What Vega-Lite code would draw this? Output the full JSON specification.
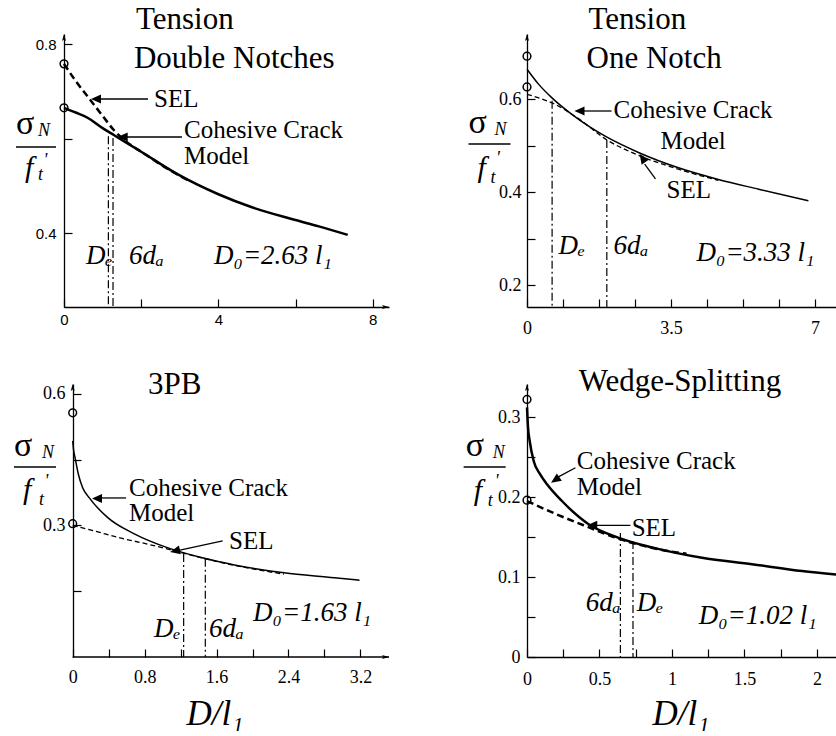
{
  "$schema": "https://vega.github.io/schema/vega-lite/v6.json",
  "background": "white",
  "padding": {"left": 13, "top": 3, "right": 0, "bottom": 0},
  "autosize": {"type": "pad"},
  "columns": 2,
  "spacing": {"row": 77, "column": 138},
  "bounds": "flush",
  "config": {
    "view": {"stroke": null},
    "font": "Liberation Serif",
    "axis": {
      "grid": false, "domainColor": "black", "domainWidth": 1.3,
      "tickColor": "black", "tickWidth": 1.2, "tickSize": -8,
      "labelColor": "black", "labelFont": "Liberation Serif", "labelFontSize": 18,
      "labelFlush": false, "labelOverlap": false, "titleColor": "black"
    }
  },
  "datasets": {
    "p1_curves": [
      {"model": "Cohesive Crack Model", "x": 0, "y": 0.665},
      {"model": "Cohesive Crack Model", "x": 0.3, "y": 0.655},
      {"model": "Cohesive Crack Model", "x": 0.61, "y": 0.644},
      {"model": "Cohesive Crack Model", "x": 1.0, "y": 0.622},
      {"model": "Cohesive Crack Model", "x": 1.3, "y": 0.607},
      {"model": "Cohesive Crack Model", "x": 2.0, "y": 0.572},
      {"model": "Cohesive Crack Model", "x": 2.95, "y": 0.524},
      {"model": "Cohesive Crack Model", "x": 4.0, "y": 0.482},
      {"model": "Cohesive Crack Model", "x": 4.85, "y": 0.455},
      {"model": "Cohesive Crack Model", "x": 5.97, "y": 0.428},
      {"model": "Cohesive Crack Model", "x": 6.6, "y": 0.414},
      {"model": "Cohesive Crack Model", "x": 7.35, "y": 0.396},
      {"model": "SEL", "x": 0, "y": 0.758},
      {"model": "SEL", "x": 0.3, "y": 0.722},
      {"model": "SEL", "x": 0.66, "y": 0.684},
      {"model": "SEL", "x": 1.0, "y": 0.648},
      {"model": "SEL", "x": 1.3, "y": 0.617},
      {"model": "SEL", "x": 1.7, "y": 0.588},
      {"model": "SEL", "x": 2.0, "y": 0.572},
      {"model": "SEL", "x": 2.6, "y": 0.54},
      {"model": "SEL", "x": 3.2, "y": 0.512}
    ],
    "p1_limits": [{"line": "De", "x": 1.15, "y": 0.605}, {"line": "6da", "x": 1.27, "y": 0.601}],
    "p1_circles": [{"x": 0, "y": 0.758}, {"x": 0, "y": 0.665}],
    "p1_rules": [
      {"x": 2.176, "y": 0.6836, "x2": 0.9, "y2": 0.6836},
      {"x": 3.057, "y": 0.6032, "x2": 1.6, "y2": 0.6032},
      {"x": -1.244, "y": 0.582, "x2": -0.207, "y2": 0.582}
    ],
    "p1_markers": [
      {"x": 0.829, "y": 0.6836, "kind": "left"},
      {"x": 1.52, "y": 0.6032, "kind": "left"},
      {"x": 0, "y": 0.8212, "kind": "axis-up"},
      {"x": 8.42, "y": 0.2434, "kind": "axis-right"}
    ],
    "p1_text": [
      {"role": "title", "x": 1.865, "y": 0.8318, "text": "Tension"},
      {"role": "title", "x": 1.813, "y": 0.7492, "text": "Double Notches"},
      {"role": "note", "x": 2.332, "y": 0.6667, "text": "SEL"},
      {"role": "note", "x": 3.109, "y": 0.601, "text": "Cohesive Crack"},
      {"role": "note", "x": 3.109, "y": 0.546, "text": "Model"},
      {"role": "math", "x": 0.57, "y": 0.3344, "text": "Dₑ"},
      {"role": "math", "x": 1.684, "y": 0.3344, "text": "6dₐ"},
      {"role": "math", "x": 3.886, "y": 0.3344, "text": "D₀=2.63 l₁"},
      {"role": "sigma", "x": -1.244, "y": 0.6095, "text": "σ"},
      {"role": "sub", "x": -0.674, "y": 0.6053, "text": "N"},
      {"role": "sub", "x": -0.674, "y": 0.5122, "text": "t"},
      {"role": "sub", "x": -0.531, "y": 0.5418, "text": "'"},
      {"role": "f", "x": -1.01, "y": 0.5185, "text": "f"}
    ],
    "p2_curves": [
      {"model": "Cohesive Crack Model", "x": 0, "y": 0.664},
      {"model": "Cohesive Crack Model", "x": 0.28, "y": 0.632},
      {"model": "Cohesive Crack Model", "x": 0.6, "y": 0.603},
      {"model": "Cohesive Crack Model", "x": 1.09, "y": 0.567},
      {"model": "Cohesive Crack Model", "x": 1.9, "y": 0.52},
      {"model": "Cohesive Crack Model", "x": 2.71, "y": 0.485},
      {"model": "Cohesive Crack Model", "x": 3.68, "y": 0.452},
      {"model": "Cohesive Crack Model", "x": 4.65, "y": 0.427},
      {"model": "Cohesive Crack Model", "x": 5.63, "y": 0.406},
      {"model": "Cohesive Crack Model", "x": 6.84, "y": 0.381},
      {"model": "SEL", "x": 0, "y": 0.61},
      {"model": "SEL", "x": 0.3, "y": 0.602},
      {"model": "SEL", "x": 0.6, "y": 0.592},
      {"model": "SEL", "x": 1.25, "y": 0.558},
      {"model": "SEL", "x": 1.94, "y": 0.512},
      {"model": "SEL", "x": 2.71, "y": 0.479},
      {"model": "SEL", "x": 3.68, "y": 0.449},
      {"model": "SEL", "x": 4.65, "y": 0.425}
    ],
    "p2_limits": [{"line": "De", "x": 0.61, "y": 0.596}, {"line": "6da", "x": 1.94, "y": 0.512}],
    "p2_circles": [{"x": 0, "y": 0.692}, {"x": 0, "y": 0.626}],
    "p2_rules": [
      {"x": 2.054, "y": 0.5742, "x2": 1.3, "y2": 0.5742},
      {"x": 3.123, "y": 0.428, "x2": 2.86, "y2": 0.46},
      {"x": -1.422, "y": 0.5032, "x2": -0.401, "y2": 0.5032}
    ],
    "p2_markers": [
      {"x": 1.276, "y": 0.5742, "kind": "left"},
      {"x": 2.807, "y": 0.473, "kind": "upleft"},
      {"x": 0, "y": 0.7398, "kind": "axis-up"}
    ],
    "p2_text": [
      {"role": "title", "x": 1.495, "y": 0.7505, "text": "Tension"},
      {"role": "title", "x": 1.446, "y": 0.6667, "text": "One Notch"},
      {"role": "note", "x": 2.103, "y": 0.5591, "text": "Cohesive Crack"},
      {"role": "note", "x": 3.245, "y": 0.4925, "text": "Model"},
      {"role": "note", "x": 3.391, "y": 0.3871, "text": "SEL"},
      {"role": "math", "x": 0.766, "y": 0.2667, "text": "Dₑ"},
      {"role": "math", "x": 2.103, "y": 0.2667, "text": "6dₐ"},
      {"role": "math", "x": 4.12, "y": 0.2516, "text": "D₀=3.33 l₁"},
      {"role": "sigma", "x": -1.422, "y": 0.5269, "text": "σ"},
      {"role": "sub", "x": -0.79, "y": 0.5226, "text": "N"},
      {"role": "sub", "x": -0.887, "y": 0.4194, "text": "t"},
      {"role": "sub", "x": -0.7535, "y": 0.4602, "text": "'"},
      {"role": "f", "x": -1.203, "y": 0.4323, "text": "f"}
    ],
    "p3_curves": [
      {"model": "Cohesive Crack Model", "x": 0, "y": 0.493},
      {"model": "Cohesive Crack Model", "x": 0.01, "y": 0.472},
      {"model": "Cohesive Crack Model", "x": 0.026, "y": 0.455},
      {"model": "Cohesive Crack Model", "x": 0.063, "y": 0.417},
      {"model": "Cohesive Crack Model", "x": 0.111, "y": 0.386},
      {"model": "Cohesive Crack Model", "x": 0.185, "y": 0.363},
      {"model": "Cohesive Crack Model", "x": 0.39, "y": 0.318},
      {"model": "Cohesive Crack Model", "x": 0.685, "y": 0.281},
      {"model": "Cohesive Crack Model", "x": 1.06, "y": 0.249},
      {"model": "Cohesive Crack Model", "x": 1.43, "y": 0.227},
      {"model": "Cohesive Crack Model", "x": 1.8, "y": 0.21},
      {"model": "Cohesive Crack Model", "x": 2.35, "y": 0.192},
      {"model": "Cohesive Crack Model", "x": 2.91, "y": 0.181},
      {"model": "Cohesive Crack Model", "x": 3.19, "y": 0.175},
      {"model": "SEL", "x": 0, "y": 0.3},
      {"model": "SEL", "x": 0.25, "y": 0.287},
      {"model": "SEL", "x": 0.5, "y": 0.273},
      {"model": "SEL", "x": 0.8, "y": 0.259},
      {"model": "SEL", "x": 1.1, "y": 0.244},
      {"model": "SEL", "x": 1.4, "y": 0.228},
      {"model": "SEL", "x": 1.8, "y": 0.209},
      {"model": "SEL", "x": 2.35, "y": 0.189}
    ],
    "p3_limits": [{"line": "De", "x": 1.234, "y": 0.235}, {"line": "6da", "x": 1.475, "y": 0.224}],
    "p3_circles": [{"x": 0, "y": 0.557}, {"x": 0, "y": 0.304}],
    "p3_rules": [
      {"x": 0.594, "y": 0.3628, "x2": 0.31, "y2": 0.3628},
      {"x": 1.668, "y": 0.2647, "x2": 1.18, "y2": 0.243},
      {"x": -0.653, "y": 0.4335, "x2": -0.186, "y2": 0.4335},
      {"x": 0, "y": 0, "x2": 3.518, "y2": 0}
    ],
    "p3_markers": [
      {"x": 0.27, "y": 0.3616, "kind": "left"},
      {"x": 1.138, "y": 0.2418, "kind": "leftdown"},
      {"x": 0, "y": 0.6228, "kind": "axis-up"},
      {"x": 3.518, "y": 0, "kind": "axis-right"}
    ],
    "p3_text": [
      {"role": "title", "x": 0.838, "y": 0.6, "text": "3PB"},
      {"role": "note", "x": 0.626, "y": 0.3673, "text": "Cohesive Crack"},
      {"role": "note", "x": 0.626, "y": 0.3103, "text": "Model"},
      {"role": "note", "x": 1.739, "y": 0.2464, "text": "SEL"},
      {"role": "math", "x": 0.904, "y": 0.0456, "text": "Dₑ"},
      {"role": "math", "x": 1.516, "y": 0.0456, "text": "6dₐ"},
      {"role": "math", "x": 2.006, "y": 0.0821, "text": "D₀=1.63 l₁"},
      {"role": "sigma", "x": -0.653, "y": 0.4586, "text": "σ"},
      {"role": "sub", "x": -0.341, "y": 0.454, "text": "N"},
      {"role": "sub", "x": -0.375, "y": 0.3468, "text": "t"},
      {"role": "sub", "x": -0.3137, "y": 0.3879, "text": "'"},
      {"role": "f", "x": -0.553, "y": 0.3605, "text": "f"}
    ],
    "p4_curves": [
      {"model": "Cohesive Crack Model", "x": 0, "y": 0.312},
      {"model": "Cohesive Crack Model", "x": 0.007, "y": 0.287},
      {"model": "Cohesive Crack Model", "x": 0.0186, "y": 0.27},
      {"model": "Cohesive Crack Model", "x": 0.046, "y": 0.245},
      {"model": "Cohesive Crack Model", "x": 0.092, "y": 0.228},
      {"model": "Cohesive Crack Model", "x": 0.138, "y": 0.216},
      {"model": "Cohesive Crack Model", "x": 0.241, "y": 0.195},
      {"model": "Cohesive Crack Model", "x": 0.425, "y": 0.166},
      {"model": "Cohesive Crack Model", "x": 0.632, "y": 0.149},
      {"model": "Cohesive Crack Model", "x": 0.862, "y": 0.137},
      {"model": "Cohesive Crack Model", "x": 1.207, "y": 0.124},
      {"model": "Cohesive Crack Model", "x": 1.552, "y": 0.116},
      {"model": "Cohesive Crack Model", "x": 1.897, "y": 0.1075},
      {"model": "Cohesive Crack Model", "x": 2.136, "y": 0.103},
      {"model": "SEL", "x": 0, "y": 0.195},
      {"model": "SEL", "x": 0.17, "y": 0.181},
      {"model": "SEL", "x": 0.4, "y": 0.164},
      {"model": "SEL", "x": 0.63, "y": 0.148},
      {"model": "SEL", "x": 0.9, "y": 0.135},
      {"model": "SEL", "x": 1.1, "y": 0.129}
    ],
    "p4_limits": [{"line": "6da", "x": 0.644, "y": 0.155}, {"line": "De", "x": 0.731, "y": 0.145}],
    "p4_circles": [{"x": 0, "y": 0.322}, {"x": 0, "y": 0.196}],
    "p4_rules": [
      {"x": 0.334, "y": 0.2366, "x2": 0.21, "y2": 0.2245},
      {"x": 0.713, "y": 0.1646, "x2": 0.47, "y2": 0.1646},
      {"x": -0.437, "y": 0.2375, "x2": -0.147, "y2": 0.2375}
    ],
    "p4_markers": [
      {"x": 0.1945, "y": 0.2213, "kind": "downleft"},
      {"x": 0.45, "y": 0.1646, "kind": "left"},
      {"x": 0, "y": 0.34125, "kind": "axis-up"}
    ],
    "p4_text": [
      {"role": "title", "x": 0.3566, "y": 0.3325, "text": "Wedge-Splitting"},
      {"role": "note", "x": 0.3428, "y": 0.235, "text": "Cohesive Crack"},
      {"role": "note", "x": 0.3428, "y": 0.2025, "text": "Model"},
      {"role": "note", "x": 0.722, "y": 0.1513, "text": "SEL"},
      {"role": "math", "x": 0.405, "y": 0.0575, "text": "6dₐ"},
      {"role": "math", "x": 0.757, "y": 0.0575, "text": "Dₑ"},
      {"role": "math", "x": 1.184, "y": 0.04125, "text": "D₀=1.02 l₁"},
      {"role": "sigma", "x": -0.423, "y": 0.2513, "text": "σ"},
      {"role": "sub", "x": -0.237, "y": 0.2488, "text": "N"},
      {"role": "sub", "x": -0.271, "y": 0.18875, "text": "t"},
      {"role": "sub", "x": -0.223, "y": 0.2125, "text": "'"},
      {"role": "f", "x": -0.368, "y": 0.19625, "text": "f"}
    ]
  },
  "concat": [
    {
      "width": 325, "height": 273,
      "encoding": {
        "x": {"field": "x", "type": "quantitative", "scale": {"domain": [0, 8.42], "nice": false, "zero": false},
          "axis": {"title": null, "format": ".3~f", "values": [0, 2, 4, 6, 8], "labelExpr": "indexof([0,4,8], datum.value) >= 0 ? datum.label : ''", "labelFont": "Liberation Sans", "labelFontSize": 15, "labelPadding": 13}},
        "y": {"field": "y", "type": "quantitative", "scale": {"domain": [0.2434, 0.8212], "nice": false, "zero": false},
          "axis": {"title": null, "format": ".3~f", "values": [0.4, 0.6, 0.8], "labelExpr": "indexof([0.4,0.8], datum.value) >= 0 ? datum.label : ''", "labelFont": "Liberation Sans", "labelFontSize": 15, "labelPadding": 16}}
      },
      "layer": [
        {"data": {"name": "p1_curves"}, "transform": [{"filter": "datum.model == 'Cohesive Crack Model'"}], "mark": {"type": "line", "color": "black", "strokeWidth": 2.5, "interpolate": "monotone"}},
        {"data": {"name": "p1_curves"}, "transform": [{"filter": "datum.model == 'SEL'"}], "mark": {"type": "line", "color": "black", "strokeWidth": 2.5, "strokeDash": [7, 4], "interpolate": "monotone"}},
        {"data": {"name": "p1_limits"}, "mark": {"type": "rule", "color": "black", "strokeWidth": 1.2, "strokeDash": [8, 3, 2, 3]}, "encoding": {"y2": {"datum": 0.2434}}},
        {"data": {"name": "p1_circles"}, "mark": {"type": "point", "shape": "circle", "filled": false, "color": "black", "strokeWidth": 1.5, "size": 60, "opacity": 1}},
        {"data": {"name": "p1_rules"}, "mark": {"type": "rule", "color": "black", "strokeWidth": 1.3}, "encoding": {"x2": {"field": "x2"}, "y2": {"field": "y2"}}},
        {"data": {"name": "p1_markers"}, "mark": {"type": "point", "filled": true, "color": "black", "size": 100, "opacity": 1, "strokeWidth": 0},
          "encoding": {"shape": {"field": "kind", "type": "nominal", "legend": null, "scale": {"domain": ["left", "upleft", "leftdown", "downleft", "axis-up", "axis-right"], "range": ["M-1,0L1,-0.9L1,0.9Z", "M-0.569,-0.822L1.309,0.31L-0.171,1.334Z", "M-0.976,0.216L1.17,0.662L0.782,-1.094Z", "M-0.825,0.565L1.334,0.178L0.316,-1.308Z", "M0,0L-0.4,1.4L0,1.1L0.4,1.4Z", "M0,0L-1.4,-0.4L-1.1,0L-1.4,0.4Z"]}}}},
        {"data": {"name": "p1_text"}, "transform": [{"filter": "datum.role == 'title'"}], "mark": {"type": "text", "font": "Liberation Serif", "fontSize": 31, "align": "left", "baseline": "alphabetic", "color": "black"}, "encoding": {"text": {"field": "text"}}},
        {"data": {"name": "p1_text"}, "transform": [{"filter": "datum.role == 'note'"}], "mark": {"type": "text", "font": "Liberation Serif", "fontSize": 25, "align": "left", "baseline": "alphabetic", "color": "black"}, "encoding": {"text": {"field": "text"}}},
        {"data": {"name": "p1_text"}, "transform": [{"filter": "datum.role == 'math'"}], "mark": {"type": "text", "font": "Liberation Serif", "fontStyle": "italic", "fontSize": 27, "align": "left", "baseline": "alphabetic", "color": "black"}, "encoding": {"text": {"field": "text"}}},
        {"data": {"name": "p1_text"}, "transform": [{"filter": "datum.role == 'sigma'"}], "mark": {"type": "text", "font": "Liberation Serif", "fontSize": 34, "align": "left", "baseline": "alphabetic", "color": "black"}, "encoding": {"text": {"field": "text"}}},
        {"data": {"name": "p1_text"}, "transform": [{"filter": "datum.role == 'sub'"}], "mark": {"type": "text", "font": "Liberation Serif", "fontStyle": "italic", "fontSize": 18, "align": "left", "baseline": "alphabetic", "color": "black"}, "encoding": {"text": {"field": "text"}}},
        {"data": {"name": "p1_text"}, "transform": [{"filter": "datum.role == 'f'"}], "mark": {"type": "text", "font": "Liberation Serif", "fontStyle": "italic", "fontSize": 30, "align": "left", "baseline": "alphabetic", "color": "black"}, "encoding": {"text": {"field": "text"}}}
      ]
    },
    {
      "width": 310, "height": 273,
      "encoding": {
        "x": {"field": "x", "type": "quantitative", "scale": {"domain": [0, 7.535], "nice": false, "zero": false},
          "axis": {"title": null, "format": ".3~f", "values": [0, 0.875, 1.75, 2.625, 3.5, 4.375, 5.25, 6.125, 7], "labelExpr": "indexof([0,3.5,7], datum.value) >= 0 ? datum.label : ''", "labelPadding": 20}},
        "y": {"field": "y", "type": "quantitative", "scale": {"domain": [0.1527, 0.7398], "nice": false, "zero": false},
          "axis": {"title": null, "format": ".3~f", "values": [0.2, 0.3, 0.4, 0.5, 0.6], "labelExpr": "indexof([0.2,0.4,0.6], datum.value) >= 0 ? datum.label : ''", "labelPadding": 14}}
      },
      "layer": [
        {"data": {"name": "p2_curves"}, "transform": [{"filter": "datum.model == 'Cohesive Crack Model'"}], "mark": {"type": "line", "color": "black", "strokeWidth": 1.5, "interpolate": "monotone"}},
        {"data": {"name": "p2_curves"}, "transform": [{"filter": "datum.model == 'SEL'"}], "mark": {"type": "line", "color": "black", "strokeWidth": 1.3, "strokeDash": [5, 3], "interpolate": "monotone"}},
        {"data": {"name": "p2_limits"}, "mark": {"type": "rule", "color": "black", "strokeWidth": 1.2, "strokeDash": [8, 3, 2, 3]}, "encoding": {"y2": {"datum": 0.1527}}},
        {"data": {"name": "p2_circles"}, "mark": {"type": "point", "shape": "circle", "filled": false, "color": "black", "strokeWidth": 1.5, "size": 60, "opacity": 1}},
        {"data": {"name": "p2_rules"}, "mark": {"type": "rule", "color": "black", "strokeWidth": 1.3}, "encoding": {"x2": {"field": "x2"}, "y2": {"field": "y2"}}},
        {"data": {"name": "p2_markers"}, "mark": {"type": "point", "filled": true, "color": "black", "size": 100, "opacity": 1, "strokeWidth": 0},
          "encoding": {"shape": {"field": "kind", "type": "nominal", "legend": null, "scale": {"domain": ["left", "upleft", "leftdown", "downleft", "axis-up", "axis-right"], "range": ["M-1,0L1,-0.9L1,0.9Z", "M-0.569,-0.822L1.309,0.31L-0.171,1.334Z", "M-0.976,0.216L1.17,0.662L0.782,-1.094Z", "M-0.825,0.565L1.334,0.178L0.316,-1.308Z", "M0,0L-0.4,1.4L0,1.1L0.4,1.4Z", "M0,0L-1.4,-0.4L-1.1,0L-1.4,0.4Z"]}}}},
        {"data": {"name": "p2_text"}, "transform": [{"filter": "datum.role == 'title'"}], "mark": {"type": "text", "font": "Liberation Serif", "fontSize": 31, "align": "left", "baseline": "alphabetic", "color": "black"}, "encoding": {"text": {"field": "text"}}},
        {"data": {"name": "p2_text"}, "transform": [{"filter": "datum.role == 'note'"}], "mark": {"type": "text", "font": "Liberation Serif", "fontSize": 25, "align": "left", "baseline": "alphabetic", "color": "black"}, "encoding": {"text": {"field": "text"}}},
        {"data": {"name": "p2_text"}, "transform": [{"filter": "datum.role == 'math'"}], "mark": {"type": "text", "font": "Liberation Serif", "fontStyle": "italic", "fontSize": 27, "align": "left", "baseline": "alphabetic", "color": "black"}, "encoding": {"text": {"field": "text"}}},
        {"data": {"name": "p2_text"}, "transform": [{"filter": "datum.role == 'sigma'"}], "mark": {"type": "text", "font": "Liberation Serif", "fontSize": 34, "align": "left", "baseline": "alphabetic", "color": "black"}, "encoding": {"text": {"field": "text"}}},
        {"data": {"name": "p2_text"}, "transform": [{"filter": "datum.role == 'sub'"}], "mark": {"type": "text", "font": "Liberation Serif", "fontStyle": "italic", "fontSize": 18, "align": "left", "baseline": "alphabetic", "color": "black"}, "encoding": {"text": {"field": "text"}}},
        {"data": {"name": "p2_text"}, "transform": [{"filter": "datum.role == 'f'"}], "mark": {"type": "text", "font": "Liberation Serif", "fontStyle": "italic", "fontSize": 30, "align": "left", "baseline": "alphabetic", "color": "black"}, "encoding": {"text": {"field": "text"}}}
      ]
    },
    {
      "width": 325, "height": 273,
      "encoding": {
        "x": {"field": "x", "type": "quantitative", "scale": {"domain": [-0.0968, 3.518], "nice": false, "zero": false},
          "axis": {"title": "D/l₁", "format": ".3~f", "domain": false, "values": [0, 0.4, 0.8, 1.2, 1.6, 2, 2.4, 2.8, 3.2], "labelExpr": "indexof([0,0.8,1.6,2.4,3.2], datum.value) >= 0 ? datum.label : ''", "labelPadding": 19,
            "titleFont": "Liberation Serif", "titleFontStyle": "italic", "titleFontWeight": "normal", "titleFontSize": 35, "titleAlign": "left", "titleAnchor": "start", "titleBaseline": "alphabetic", "titleX": 122, "titleY": 67}},
        "y": {"field": "y", "type": "quantitative", "scale": {"domain": [0, 0.6228], "nice": false, "zero": false},
          "axis": {"title": null, "format": ".3~f", "offset": -9, "values": [0.15, 0.3, 0.45, 0.6], "labelExpr": "indexof([0.3,0.6], datum.value) >= 0 ? datum.label : ''", "labelPadding": 16}}
      },
      "layer": [
        {"data": {"name": "p3_curves"}, "transform": [{"filter": "datum.model == 'Cohesive Crack Model'"}], "mark": {"type": "line", "color": "black", "strokeWidth": 1.5, "interpolate": "monotone"}},
        {"data": {"name": "p3_curves"}, "transform": [{"filter": "datum.model == 'SEL'"}], "mark": {"type": "line", "color": "black", "strokeWidth": 1.3, "strokeDash": [5, 3], "interpolate": "monotone"}},
        {"data": {"name": "p3_limits"}, "mark": {"type": "rule", "color": "black", "strokeWidth": 1.2, "strokeDash": [8, 3, 2, 3]}, "encoding": {"y2": {"datum": 0}}},
        {"data": {"name": "p3_circles"}, "mark": {"type": "point", "shape": "circle", "filled": false, "color": "black", "strokeWidth": 1.5, "size": 60, "opacity": 1}},
        {"data": {"name": "p3_rules"}, "mark": {"type": "rule", "color": "black", "strokeWidth": 1.3}, "encoding": {"x2": {"field": "x2"}, "y2": {"field": "y2"}}},
        {"data": {"name": "p3_markers"}, "mark": {"type": "point", "filled": true, "color": "black", "size": 100, "opacity": 1, "strokeWidth": 0},
          "encoding": {"shape": {"field": "kind", "type": "nominal", "legend": null, "scale": {"domain": ["left", "upleft", "leftdown", "downleft", "axis-up", "axis-right"], "range": ["M-1,0L1,-0.9L1,0.9Z", "M-0.569,-0.822L1.309,0.31L-0.171,1.334Z", "M-0.976,0.216L1.17,0.662L0.782,-1.094Z", "M-0.825,0.565L1.334,0.178L0.316,-1.308Z", "M0,0L-0.4,1.4L0,1.1L0.4,1.4Z", "M0,0L-1.4,-0.4L-1.1,0L-1.4,0.4Z"]}}}},
        {"data": {"name": "p3_text"}, "transform": [{"filter": "datum.role == 'title'"}], "mark": {"type": "text", "font": "Liberation Serif", "fontSize": 31, "align": "left", "baseline": "alphabetic", "color": "black"}, "encoding": {"text": {"field": "text"}}},
        {"data": {"name": "p3_text"}, "transform": [{"filter": "datum.role == 'note'"}], "mark": {"type": "text", "font": "Liberation Serif", "fontSize": 25, "align": "left", "baseline": "alphabetic", "color": "black"}, "encoding": {"text": {"field": "text"}}},
        {"data": {"name": "p3_text"}, "transform": [{"filter": "datum.role == 'math'"}], "mark": {"type": "text", "font": "Liberation Serif", "fontStyle": "italic", "fontSize": 27, "align": "left", "baseline": "alphabetic", "color": "black"}, "encoding": {"text": {"field": "text"}}},
        {"data": {"name": "p3_text"}, "transform": [{"filter": "datum.role == 'sigma'"}], "mark": {"type": "text", "font": "Liberation Serif", "fontSize": 34, "align": "left", "baseline": "alphabetic", "color": "black"}, "encoding": {"text": {"field": "text"}}},
        {"data": {"name": "p3_text"}, "transform": [{"filter": "datum.role == 'sub'"}], "mark": {"type": "text", "font": "Liberation Serif", "fontStyle": "italic", "fontSize": 18, "align": "left", "baseline": "alphabetic", "color": "black"}, "encoding": {"text": {"field": "text"}}},
        {"data": {"name": "p3_text"}, "transform": [{"filter": "datum.role == 'f'"}], "mark": {"type": "text", "font": "Liberation Serif", "fontStyle": "italic", "fontSize": 30, "align": "left", "baseline": "alphabetic", "color": "black"}, "encoding": {"text": {"field": "text"}}}
      ]
    },
    {
      "width": 310, "height": 273,
      "encoding": {
        "x": {"field": "x", "type": "quantitative", "scale": {"domain": [0, 2.138], "nice": false, "zero": false},
          "axis": {"title": "D/l₁", "format": ".3~f", "values": [0, 0.25, 0.5, 0.75, 1, 1.25, 1.5, 1.75, 2], "labelExpr": "indexof([0,0.5,1,1.5,2], datum.value) >= 0 ? datum.label : ''", "labelPadding": 21,
            "titleFont": "Liberation Serif", "titleFontStyle": "italic", "titleFontWeight": "normal", "titleFontSize": 35, "titleAlign": "left", "titleAnchor": "start", "titleBaseline": "alphabetic", "titleX": 125, "titleY": 67}},
        "y": {"field": "y", "type": "quantitative", "scale": {"domain": [0, 0.34125], "nice": false, "zero": false},
          "axis": {"title": null, "format": ".3~f", "values": [0, 0.05, 0.1, 0.15, 0.2, 0.25, 0.3], "labelExpr": "indexof([0,0.1,0.2,0.3], datum.value) >= 0 ? datum.label : ''", "labelPadding": 15}}
      },
      "layer": [
        {"data": {"name": "p4_curves"}, "transform": [{"filter": "datum.model == 'Cohesive Crack Model'"}], "mark": {"type": "line", "color": "black", "strokeWidth": 2.5, "interpolate": "monotone"}},
        {"data": {"name": "p4_curves"}, "transform": [{"filter": "datum.model == 'SEL'"}], "mark": {"type": "line", "color": "black", "strokeWidth": 2.5, "strokeDash": [7, 4], "interpolate": "monotone"}},
        {"data": {"name": "p4_limits"}, "mark": {"type": "rule", "color": "black", "strokeWidth": 1.2, "strokeDash": [8, 3, 2, 3]}, "encoding": {"y2": {"datum": 0}}},
        {"data": {"name": "p4_circles"}, "mark": {"type": "point", "shape": "circle", "filled": false, "color": "black", "strokeWidth": 1.5, "size": 60, "opacity": 1}},
        {"data": {"name": "p4_rules"}, "mark": {"type": "rule", "color": "black", "strokeWidth": 1.3}, "encoding": {"x2": {"field": "x2"}, "y2": {"field": "y2"}}},
        {"data": {"name": "p4_markers"}, "mark": {"type": "point", "filled": true, "color": "black", "size": 100, "opacity": 1, "strokeWidth": 0},
          "encoding": {"shape": {"field": "kind", "type": "nominal", "legend": null, "scale": {"domain": ["left", "upleft", "leftdown", "downleft", "axis-up", "axis-right"], "range": ["M-1,0L1,-0.9L1,0.9Z", "M-0.569,-0.822L1.309,0.31L-0.171,1.334Z", "M-0.976,0.216L1.17,0.662L0.782,-1.094Z", "M-0.825,0.565L1.334,0.178L0.316,-1.308Z", "M0,0L-0.4,1.4L0,1.1L0.4,1.4Z", "M0,0L-1.4,-0.4L-1.1,0L-1.4,0.4Z"]}}}},
        {"data": {"name": "p4_text"}, "transform": [{"filter": "datum.role == 'title'"}], "mark": {"type": "text", "font": "Liberation Serif", "fontSize": 31, "align": "left", "baseline": "alphabetic", "color": "black"}, "encoding": {"text": {"field": "text"}}},
        {"data": {"name": "p4_text"}, "transform": [{"filter": "datum.role == 'note'"}], "mark": {"type": "text", "font": "Liberation Serif", "fontSize": 25, "align": "left", "baseline": "alphabetic", "color": "black"}, "encoding": {"text": {"field": "text"}}},
        {"data": {"name": "p4_text"}, "transform": [{"filter": "datum.role == 'math'"}], "mark": {"type": "text", "font": "Liberation Serif", "fontStyle": "italic", "fontSize": 27, "align": "left", "baseline": "alphabetic", "color": "black"}, "encoding": {"text": {"field": "text"}}},
        {"data": {"name": "p4_text"}, "transform": [{"filter": "datum.role == 'sigma'"}], "mark": {"type": "text", "font": "Liberation Serif", "fontSize": 34, "align": "left", "baseline": "alphabetic", "color": "black"}, "encoding": {"text": {"field": "text"}}},
        {"data": {"name": "p4_text"}, "transform": [{"filter": "datum.role == 'sub'"}], "mark": {"type": "text", "font": "Liberation Serif", "fontStyle": "italic", "fontSize": 18, "align": "left", "baseline": "alphabetic", "color": "black"}, "encoding": {"text": {"field": "text"}}},
        {"data": {"name": "p4_text"}, "transform": [{"filter": "datum.role == 'f'"}], "mark": {"type": "text", "font": "Liberation Serif", "fontStyle": "italic", "fontSize": 30, "align": "left", "baseline": "alphabetic", "color": "black"}, "encoding": {"text": {"field": "text"}}}
      ]
    }
  ]
}
